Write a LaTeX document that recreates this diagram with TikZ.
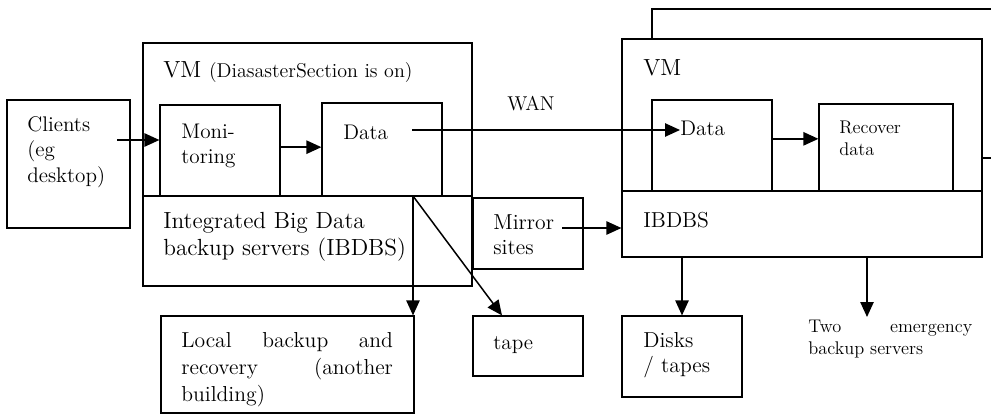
\documentclass[tikz,border=0pt]{standalone}
\usetikzlibrary{arrows.meta,fit}
\tikzset{
  box/.style={draw, line width=0.7pt, inner sep=0pt},
  whitebox/.style={box, fill=white},
  txt/.style={inner sep=0pt, anchor=base west, font=\fontsize{12.7}{15.3}\selectfont},
  arr/.style={line width=0.9pt, -{Triangle[length=9pt,width=8pt]}}
}
\begin{document}
\begin{tikzpicture}[x=0.6pt,y=-0.6pt]
\clip (0,0) rectangle (991,416);
% boxes
\node[box, fit={(652,9) (1010,158)}] (back) {};
\node[box, fit={(7,100) (130,228)}] (clients) {};
\node[box, fit={(143,43) (472,196)}] (vmL) {};
\node[box, fit={(143,196) (472,286)}] (ibL) {};
\node[box, fit={(160,105) (280,196)}] (moni) {};
\node[box, fit={(322,103) (442,196)}] (dataL) {};
\node[box, fit={(473,198) (583,269)}] (mirror) {};
\node[box, fit={(161,316) (414,413)}] (local) {};
\node[box, fit={(473,316) (583,376)}] (tape) {};
\node[whitebox, fit={(622,39) (982,191)}] (vmR) {};
\node[box, fit={(622,191) (982,257)}] (ibR) {};
\node[box, fit={(652,100) (772,191)}] (dataR) {};
\node[box, fit={(819,104) (953,191)}] (recover) {};
\node[box, fit={(622,316) (742,397)}] (disks) {};
% texts
\node[txt, text width=60pt, align=left] (clientstxt) at (27,131) {Clients\\(eg\\desktop)};
\node[txt, font=\fontsize{14}{16}\selectfont] (vmLtxt) at (163,77) {VM {\fontsize{12}{14}\selectfont (DiasasterSection is on)}};
\node[txt, text width=40pt, align=left] (monitxt) at (181,138) {Moni-\\toring};
\node[txt] (dataLtxt) at (343,139) {Data};
\node[txt, font=\fontsize{12}{14}\selectfont] (wan) at (507,110) {WAN};
\node[txt, text width=160pt, align=left, font=\fontsize{14}{16.2}\selectfont] (ibLtxt) at (163,228) {Integrated Big Data\\backup servers (IBDBS)};
\node[txt, text width=45pt, align=left, font=\fontsize{13}{15}\selectfont] (mirrortxt) at (493,229) {Mirror\\sites};
\node[txt, text width=127pt, align=justify, font=\fontsize{13}{16.2}\selectfont] (localtxt) at (181,347) {Local backup and\linebreak recovery (another\linebreak building)};
\node[txt] (tapetxt) at (493,349) {tape};
\node[txt, font=\fontsize{14}{16}\selectfont] (vmRtxt) at (643,75) {VM};
\node[txt] (dataRtxt) at (680,135) {Data};
\node[txt, text width=50pt, align=left, font=\fontsize{11}{13.2}\selectfont] (recovertxt) at (839,133) {Recover\\data};
\node[txt, font=\fontsize{13}{15}\selectfont] (ibRtxt) at (643,227) {IBDBS};
\node[txt, text width=45pt, align=left, font=\fontsize{13}{15}\selectfont] (diskstxt) at (643,347) {Disks\\/ tapes};
\node[txt, text width=98.4pt, align=justify, font=\fontsize{11}{13.2}\selectfont] (twotxt) at (808,332) {Two emergency\linebreak backup servers};
% connectors
\coordinate (clout) at (117,140);
\coordinate (wanout) at (412,130);
\coordinate (mirout) at (562,228);
\coordinate (split) at (413,196);
\coordinate (emg) at (867,317);
\draw[arr] (clout) -- (clout -| moni.west);
\draw[arr] ([yshift=2pt]moni.east) -- ([yshift=2pt]moni.east -| dataL.west);
\draw[arr] (wanout) -- (wanout -| dataRtxt.west);
\draw[arr] ([yshift=4pt]dataR.east) -- ([yshift=4pt]dataR.east -| recover.west);
\draw[arr] (mirout) -- (mirout -| ibR.west);
\draw[arr] (split) -- (split |- local.north);
\draw[arr] (split) -- ([xshift=-15.6pt]tape.north);
\draw[arr] (ibR.south -| disks.north) -- (disks.north);
\draw[arr] (emg |- ibR.south) -- (emg);
\end{tikzpicture}
\end{document}
